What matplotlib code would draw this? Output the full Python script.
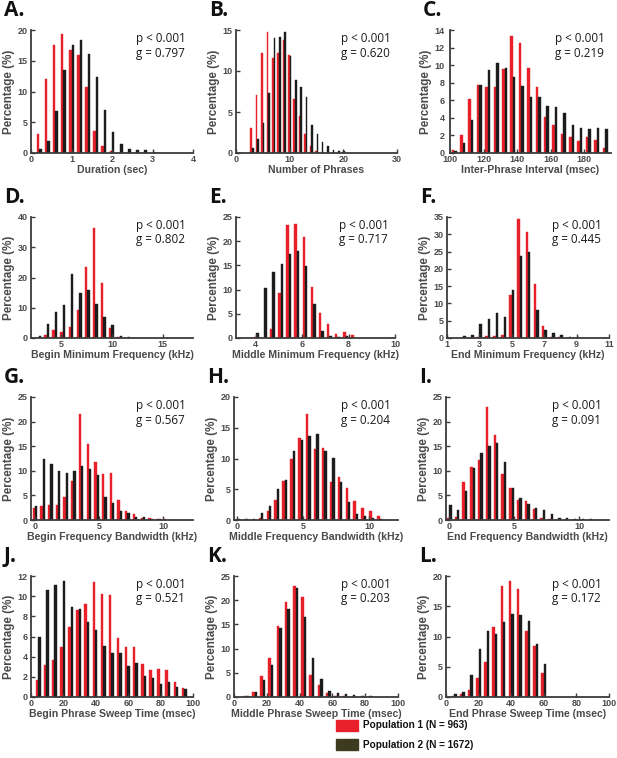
import numpy as np
import matplotlib
matplotlib.use("Agg")
import matplotlib.pyplot as plt
from matplotlib.patches import Rectangle

RED = '#e8202a'
BLK = '#1c1c1c'
AXC = '#3c3c3c'
TXC = '#4a4a4a'

# ---- data (percentages) ----
# A. Duration (sec)
a_x = np.arange(1, 16) * 0.2
a_red = [3.1, 12.0, 17.5, 19.3, 16.7, 16.0, 10.8, 3.5, 1.2, 0.4, 0, 0, 0, 0, 0]
a_blk = [0.7, 2.0, 6.8, 13.5, 17.5, 18.3, 16.1, 12.3, 7.0, 3.4, 1.4, 0.6, 0.5, 0.5, 0.2]

# B. Number of phrases
b_x = np.arange(3, 21)
b_red = [3.0, 7.1, 12.2, 14.8, 11.6, 12.2, 13.8, 12.0, 6.6, 4.5, 2.3, 0.9, 0.3, 0, 0, 0, 0, 0]
b_blk = [0.6, 1.7, 3.7, 7.3, 14.0, 14.2, 14.7, 11.8, 8.9, 8.0, 6.8, 3.4, 2.3, 1.3, 0.8, 0.4, 0.2, 0.2]

# C. Inter-phrase interval (msec)
c_x = 102.5 + 5 * np.arange(19)
c_red = [0.3, 2.1, 6.2, 7.7, 7.5, 7.5, 9.6, 13.3, 12.5, 9.7, 7.5, 4.1, 3.2, 2.2, 1.8, 1.4, 1.8, 1.5, 0.6]
c_blk = [0.2, 1.1, 3.7, 7.7, 9.4, 10.2, 9.7, 8.7, 7.6, 6.4, 6.4, 5.4, 5.2, 4.6, 3.2, 2.8, 2.7, 2.8, 2.7]

# D. Begin minimum frequency (kHz)
d_x = 2.75 + 0.8 * np.arange(13)
d_red = [0, 1.0, 2.5, 2.1, 3.8, 9.3, 23.5, 36.3, 18.3, 3.3, 0.2, 0, 0]
d_blk = [0.8, 4.6, 8.5, 10.8, 21.3, 14.8, 15.9, 11.2, 7.1, 4.3, 0.8, 0.3, 0]

# E. Middle minimum frequency (kHz)
e_x = 3.67 + 0.35 * np.arange(14)
e_red = [0, 0.2, 0, 1.9, 9.2, 23.3, 23.6, 20.9, 10.5, 5.2, 2.9, 0.9, 1.3, 0.7]
e_blk = [0.1, 1.1, 10.4, 13.6, 15.3, 17.4, 18.0, 14.9, 7.0, 1.4, 0.5, 0.2, 0.4, 0.1]

# F. End minimum frequency (kHz)
f_x = 2.0 + 0.5 * np.arange(16)
f_red = [0, 0, 0.4, 0.6, 0.7, 1.0, 12.5, 34.5, 30.8, 15.6, 3.5, 0.4, 0.2, 0, 0, 0]
f_blk = [0.5, 1.0, 4.0, 5.6, 7.2, 6.2, 13.8, 23.8, 24.9, 8.0, 2.3, 1.5, 0.8, 0.4, 0.3, 0.1]

# G. Begin frequency bandwidth (kHz)
g_x = 0.6 * np.arange(19)
g_red = [2.5, 2.8, 3.0, 3.0, 4.7, 8.0, 21.6, 15.5, 11.7, 9.4, 9.5, 4.0, 1.8, 1.2, 0.5, 0.4, 0.2, 0.2, 0.1]
g_blk = [2.8, 12.5, 11.4, 9.9, 9.5, 10.0, 11.0, 10.4, 9.1, 4.6, 3.4, 1.8, 1.5, 0.6, 0.6, 0.3, 0.3, 0.1, 0]

# H. Middle frequency bandwidth (kHz)
h_x = 0.6 * np.arange(19)
h_red = [0, 0, 0, 0.3, 1.5, 3.2, 6.3, 10.0, 13.3, 17.2, 11.6, 11.7, 6.1, 7.0, 5.2, 3.1, 2.0, 1.5, 0.6]
h_blk = [0.2, 0.1, 0.2, 1.2, 2.3, 5.1, 6.5, 11.3, 13.0, 13.6, 14.0, 11.2, 10.1, 6.2, 2.9, 1.0, 0.6, 0.4, 0.1]

# I. End frequency bandwidth (kHz)
i_x = 0.6 * np.arange(20)
i_red = [0.5, 0.6, 7.7, 10.8, 12.2, 23.0, 17.2, 9.3, 6.6, 4.0, 3.8, 2.3, 0.5, 0.2, 0, 0, 0, 0, 0, 0]
i_blk = [3.0, 2.0, 5.8, 10.5, 13.7, 15.1, 15.6, 11.7, 6.6, 4.5, 3.3, 2.4, 2.0, 1.2, 0.5, 0.4, 0.3, 0.3, 0.2, 0.1]

# J. Begin phrase sweep time (msec)
j_x = 4.5 + 5 * np.arange(19)
j_red = [1.7, 3.2, 3.7, 5.0, 6.9, 8.6, 9.2, 11.4, 10.2, 10.1, 5.9, 5.0, 5.0, 3.3, 2.7, 2.8, 2.7, 1.5, 0.9]
j_blk = [6.0, 10.6, 11.1, 11.5, 8.9, 8.7, 7.4, 6.6, 5.1, 4.4, 4.4, 3.1, 3.4, 2.1, 1.9, 1.3, 1.5, 1.0, 0.8]

# K. Middle phrase sweep time (msec)
k_x = 7.5 + 5 * np.arange(16)
k_red = [0.3, 1.0, 4.4, 8.0, 14.6, 19.6, 23.0, 20.7, 4.5, 2.5, 0.8, 0.3, 0.2, 0, 0, 0]
k_blk = [0.2, 1.0, 3.6, 6.6, 14.3, 18.1, 22.5, 16.5, 8.1, 3.7, 1.2, 0.8, 0.6, 0.4, 0.3, 0.2]

# L. End phrase sweep time (msec)
l_x = 5 + 5 * np.arange(12)
l_red = [0.2, 0.5, 1.2, 3.2, 5.8, 11.5, 18.3, 19.2, 17.9, 10.9, 8.5, 3.9]
l_blk = [0.5, 0.8, 3.7, 8.0, 10.9, 10.4, 12.4, 13.7, 13.5, 12.5, 8.7, 5.4]

panels = [
    # letter, x, red, black, bin width, xlabel, xlim, xticks, ymax, ytick step, g, pixel box (l, t, r, b)
    ('A.', a_x, a_red, a_blk, 0.2, 'Duration (sec)', (0, 4), [0, 1, 2, 3, 4], 20, 5, '0.797', (31, 30, 193, 153)),
    ('B.', b_x, b_red, b_blk, 1.0, 'Number of Phrases', (0, 30), [0, 10, 20, 30], 15, 5, '0.620', (236, 30, 397, 153)),
    ('C.', c_x, c_red, c_blk, 5.0, 'Inter-Phrase Interval (msec)', (100, 196), [100, 120, 140, 160, 180], 14, 2, '0.219', (450, 30, 611, 153)),
    ('D.', d_x, d_red, d_blk, 0.8, 'Begin Minimum Frequency (kHz)', (2, 18), [5, 10, 15], 40, 10, '0.802', (31, 217, 193, 338)),
    ('E.', e_x, e_red, e_blk, 0.35, 'Middle Minimum Frequency (kHz)', (3.15, 10), [4, 6, 8, 10], 25, 5, '0.717', (236, 217, 395, 338)),
    ('F.', f_x, f_red, f_blk, 0.5, 'End Minimum Frequency (kHz)', (1, 11), [1, 3, 5, 7, 9, 11], 35, 5, '0.445', (447, 217, 609, 338)),
    ('G.', g_x, g_red, g_blk, 0.6, 'Begin Frequency Bandwidth (kHz)', (-0.3, 12.3), [0, 5, 10], 25, 5, '0.567', (31, 397, 193, 520)),
    ('H.', h_x, h_red, h_blk, 0.6, 'Middle Frequency Bandwidth (kHz)', (-0.25, 12.2), [0, 5, 10], 20, 5, '0.204', (234, 397, 398, 520)),
    ('I.', i_x, i_red, i_blk, 0.6, 'End Frequency Bandwidth (kHz)', (-0.25, 12.3), [0, 5, 10], 25, 5, '0.091', (446, 397, 609, 520)),
    ('J.', j_x, j_red, j_blk, 5.0, 'Begin Phrase Sweep Time (msec)', (0, 100), [0, 20, 40, 60, 80, 100], 12, 2, '0.521', (31, 576, 193, 697)),
    ('K.', k_x, k_red, k_blk, 5.0, 'Middle Phrase Sweep Time (msec)', (0, 100), [0, 20, 40, 60, 80, 100], 25, 5, '0.203', (234, 576, 398, 697)),
    ('L.', l_x, l_red, l_blk, 5.0, 'End Phrase Sweep Time (msec)', (0, 100), [0, 20, 40, 60, 80, 100], 20, 5, '0.172', (446, 576, 609, 697)),
]

W, H = 617, 758
fig = plt.figure(figsize=(W / 100, H / 100), dpi=100)
fig.patch.set_facecolor('white')

for letter, x, red, blk, bw, xlabel, xlim, xticks, ymax, ystep, g, box in panels:
    l, t, r, b = box
    ax = fig.add_axes([l / W, 1 - b / H, (r - l) / W, (b - t) / H])
    x = np.asarray(x)
    ax.bar(x - 0.15 * bw, red, width=0.3 * bw, color=RED, edgecolor=RED, lw=0.3)
    ax.bar(x + 0.15 * bw, blk, width=0.3 * bw, color=BLK, edgecolor=BLK, lw=0.3)

    ax.set_xlim(*xlim)
    ax.set_ylim(0, ymax)
    ax.set_xticks(xticks)
    ax.set_yticks(np.arange(0, ymax + 0.01, ystep))
    for s in ['top', 'right']:
        ax.spines[s].set_visible(False)
    for s in ['left', 'bottom']:
        ax.spines[s].set_color(AXC)
        ax.spines[s].set_linewidth(1.3)
    ax.tick_params(direction='in', length=3, width=1, color=AXC, labelsize=6.5,
                   labelcolor=TXC, pad=1.5)
    # the first x label of C sits right under the y origin, so push the y labels out a bit
    ax.tick_params(axis='y', pad=4 if letter == 'C.' else 2.5)
    for lab in ax.get_xticklabels() + ax.get_yticklabels():
        lab.set_fontweight('bold')
        lab.set_family('Liberation Sans')
    ax.set_xlabel(xlabel, fontsize=7.6, fontweight='bold', color=TXC,
                  family='Liberation Sans', labelpad=0.5)
    ax.set_ylabel('Percentage (%)', fontsize=8.4, fontweight='bold', color=TXC,
                  family='Liberation Sans', labelpad=1.5)

    ax.text(0.65, 0.93, 'p < 0.001', transform=ax.transAxes, fontsize=8.4,
            family='Open Sans', color='#1a1a1a', va='center', ha='left')
    ax.text(0.65, 0.81, 'g = ' + g, transform=ax.transAxes, fontsize=8.4,
            family='Open Sans', color='#1a1a1a', va='center', ha='left')

    fig.text((l - 27) / W, 1 - (t - 9) / H, letter, fontsize=15, fontweight='bold',
             family='Open Sans', color='#111111', ha='left', va='bottom')

# legend
fig.patches.append(Rectangle((336 / W, 1 - 731 / H), 22 / W, 11 / H,
                             transform=fig.transFigure, color=RED))
fig.patches.append(Rectangle((336 / W, 1 - 750 / H), 22 / W, 11 / H,
                             transform=fig.transFigure, color='#3d3a1d'))
fig.text(363 / W, 1 - 725.5 / H, 'Population 1 (N = 963)', fontsize=7.2, fontweight='bold',
         family='Liberation Sans', color='#111111', va='center')
fig.text(363 / W, 1 - 744.5 / H, 'Population 2 (N = 1672)', fontsize=7.2, fontweight='bold',
         family='Liberation Sans', color='#111111', va='center')

fig.savefig('out.png', dpi=100)
